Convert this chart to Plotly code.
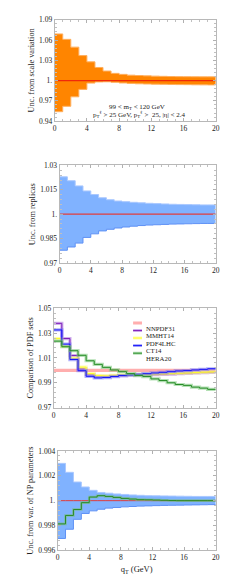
import plotly.graph_objects as go

# ---------------- data ----------------
qt_edges = list(range(21))          # bin edges in q_T (GeV)
x_ticks = [0, 4, 8, 12, 16, 20]

# panel 1: scale variation band
scale_up = [1.069, 1.061, 1.0495, 1.037, 1.0277, 1.0194, 1.0141, 1.0107, 1.0092, 1.008,
            1.0075, 1.007, 1.0066, 1.0063, 1.006, 1.0058, 1.0057, 1.0056, 1.0055, 1.0055]
scale_lo = [0.954, 0.962, 0.976, 0.987, 0.9963, 0.998, 0.9982, 0.9975, 0.9965, 0.9958,
            0.9953, 0.995, 0.9947, 0.9945, 0.9943, 0.9941, 0.994, 0.9938, 0.9937, 0.9936]

# panel 2: replicas band
rep_up = [1.023, 1.0206, 1.0174, 1.0143, 1.0121, 1.0101, 1.0089, 1.0081, 1.0077, 1.0073,
          1.007, 1.0067, 1.0065, 1.0063, 1.0061, 1.006, 1.0059, 1.0058, 1.0057, 1.0057]
rep_lo = [0.9778, 0.9798, 0.9822, 0.9857, 0.9879, 0.9897, 0.9907, 0.9915, 0.9921, 0.9926,
          0.993, 0.9933, 0.9935, 0.9937, 0.9939, 0.994, 0.9941, 0.9942, 0.9943, 0.9943]

# panel 3: PDF set comparison
pdf_names = ["NNPDF31", "MMHT14", "PDF4LHC", "CT14", "HERA20"]
nnpdf31 = [1.0] * 20
mmht14 = [1.0378, 1.0256, 1.0119, 1.0013, 0.9966, 0.9952, 0.9952, 0.9955, 0.9958, 0.9961,
          0.9963, 0.9964, 0.9965, 0.9967, 0.997, 0.9973, 0.9976, 0.9979, 0.9982, 0.9984]
pdf4lhc = [1.0256, 1.0193, 1.0098, 1.0026, 0.9974, 0.9958, 0.9955, 0.996, 0.9963, 0.9965,
           0.9967, 0.9969, 0.9971, 0.9973, 0.9975, 0.9977, 0.9979, 0.9982, 0.9985, 0.9987]
ct14 = [1.0325, 1.0211, 1.0087, 0.9997, 0.9952, 0.9939, 0.9942, 0.995, 0.9958, 0.9963,
        0.9968, 0.9973, 0.9979, 0.9984, 0.9989, 0.9995, 0.9998, 1.0003, 1.0008, 1.0013]
hera20 = [1.0235, 1.019, 1.0158, 1.0121, 1.0077, 1.0048, 1.0024, 1.0003, 0.9989, 0.9974,
          0.9958, 0.995, 0.9931, 0.9918, 0.99, 0.9886, 0.9879, 0.9865, 0.9857, 0.9847]

# panel 4: NP parameter variation
np_up = [1.003, 1.00228, 1.0015, 1.0011, 1.00083, 1.00066, 1.0006, 1.00054, 1.0005, 1.00046,
         1.00043, 1.0004, 1.00039, 1.00038, 1.00037, 1.00036, 1.00035, 1.00034, 1.00034, 1.00034]
np_lo = [0.99696, 0.9977, 0.9985, 0.99897, 0.99918, 0.99931, 0.9994, 0.99945, 0.9995, 0.99953,
         0.99956, 0.99958, 0.9996, 0.99962, 0.99963, 0.99964, 0.99965, 0.99966, 0.99967, 0.99968]
np_alt = [0.99813, 0.99881, 0.99929, 0.99984, 1.00029, 1.0004, 1.00034, 1.00026, 1.00018, 1.00013,
          1.00008, 1.00007, 1.00005, 1.00003, 1.00001, 1.0, 1.0, 1.0, 1.0, 1.0]

# ---------------- helpers ----------------
FONT = "Liberation Serif"

def step(v):
    return list(v) + [v[-1]]

fig = go.Figure()

def band(lo, up, fill, edge_lo, edge_up, ax):
    xa, ya = ax
    fig.add_trace(go.Scatter(x=qt_edges, y=step(lo), mode="lines", line=dict(shape="hv", color=edge_lo, width=1),
                             xaxis=xa, yaxis=ya, showlegend=False, hoverinfo="skip"))
    fig.add_trace(go.Scatter(x=qt_edges, y=step(up), mode="lines", line=dict(shape="hv", color=edge_up, width=1),
                             fill="tonexty", fillcolor=fill,
                             xaxis=xa, yaxis=ya, showlegend=False, hoverinfo="skip"))

def stepline(v, color, halo, ax, w=1.0, hw=3.0):
    xa, ya = ax
    if halo:
        fig.add_trace(go.Scatter(x=qt_edges, y=step(v), mode="lines",
                                 line=dict(shape="hv", color=halo, width=hw),
                                 xaxis=xa, yaxis=ya, showlegend=False, hoverinfo="skip"))
    if color:
        fig.add_trace(go.Scatter(x=qt_edges, y=step(v), mode="lines",
                                 line=dict(shape="hv", color=color, width=w),
                                 xaxis=xa, yaxis=ya, showlegend=False, hoverinfo="skip"))

# panel 1
band(scale_lo, scale_up, "rgb(255,133,0)", "rgb(255,175,95)", "rgb(255,175,95)", ("x", "y"))
stepline(nnpdf31, "rgb(240,40,10)", None, ("x", "y"), w=1.2)
# panel 2
band(rep_lo, rep_up, "rgb(128,178,255)", "rgb(95,145,245)", "rgb(170,200,255)", ("x2", "y2"))
stepline(nnpdf31, "rgb(225,60,60)", None, ("x2", "y2"), w=1.2)
# panel 3
pdf_series = [nnpdf31, mmht14, pdf4lhc, ct14, hera20]
pdf_colors = ["rgba(0,0,0,0)", "rgb(125,30,185)", "rgb(255,255,40)", "rgb(20,20,250)", "rgb(40,140,40)"]
pdf_halos = ["rgba(255,120,120,0.6)", "rgba(170,110,220,0.55)", "rgba(255,255,120,0.6)",
             "rgba(110,110,250,0.55)", "rgba(120,200,120,0.55)"]
for s, c, h in zip(pdf_series, pdf_colors, pdf_halos):
    stepline(s, c, h, ("x3", "y3"), w=1.0, hw=3.2)
# panel 4
band(np_lo, np_up, "rgb(128,178,255)", "rgb(95,145,245)", "rgb(170,200,255)", ("x4", "y4"))
stepline(nnpdf31, "rgb(225,60,60)", None, ("x4", "y4"), w=1.0)
stepline(np_alt, "rgb(40,140,40)", "rgba(120,190,120,0.6)", ("x4", "y4"), w=1.0, hw=2.6)

# ---------------- layout ----------------
W, H = 249, 579

def dom_x(a, b):
    return [a / W, b / W]

def dom_y(top, bot):
    return [1 - bot / H, 1 - top / H]

axis_common = dict(showline=True, linecolor="#b8b8b8", linewidth=1, mirror="allticks",
                   ticks="inside", ticklen=3, tickcolor="#b0b0b0", showgrid=False, zeroline=False,
                   tickfont=dict(family=FONT, size=7.5, color="#222"))

def xaxis(dom, anchor, title=None):
    d = dict(axis_common, domain=dom, anchor=anchor, range=[0, 20], tickmode="array",
             tickvals=x_ticks, ticktext=[str(t) for t in x_ticks],
             minor=dict(dtick=1, tick0=0, ticks="inside", ticklen=2, tickcolor="#c0c0c0"))
    if title:
        d["title"] = dict(text=title, font=dict(family=FONT, size=8.5, color="#222"), standoff=4)
    return d

def yaxis(dom, anchor, rng, vals, texts, minor, title):
    return dict(axis_common, domain=dom, anchor=anchor, range=rng, tickmode="array",
                tickvals=vals, ticktext=texts,
                minor=dict(dtick=minor, tick0=rng[0], ticks="inside", ticklen=2, tickcolor="#c0c0c0"),
                title=dict(text=title, font=dict(family=FONT, size=8.3, color="#222"), standoff=3))

fig.update_layout(
    width=W, height=H, margin=dict(l=0, r=0, t=0, b=0),
    paper_bgcolor="white", plot_bgcolor="white", showlegend=False,
    font=dict(family=FONT, color="#222"),
    xaxis=xaxis(dom_x(54, 219), "y"),
    yaxis=yaxis(dom_y(16, 119), "x", [0.94, 1.09], [0.94, 0.97, 1.0, 1.03, 1.06, 1.09],
                ["0.94", "0.97", "1.", "1.03", "1.06", "1.09"], 0.006, "Unc. from scale variation"),
    xaxis2=xaxis(dom_x(59, 219), "y2"),
    yaxis2=yaxis(dom_y(164, 263), "x2", [0.97, 1.03], [0.97, 0.985, 1.0, 1.015, 1.03],
                 ["0.97", "0.985", "1.", "1.015", "1.03"], 0.003, "Unc. from replicas"),
    xaxis3=xaxis(dom_x(53, 219), "y3"),
    yaxis3=yaxis(dom_y(309, 410), "x3", [0.97, 1.05], [0.97, 0.99, 1.01, 1.03, 1.05],
                 ["0.97", "0.99", "1.01", "1.03", "1.05"], 0.004, "Comparison of PDF sets"),
    xaxis4=xaxis(dom_x(57, 219), "y4", title="q<sub>T</sub> (GeV)"),
    yaxis4=yaxis(dom_y(454, 555), "x4", [0.996, 1.004], [0.996, 0.998, 1.0, 1.002, 1.004],
                 ["0.996", "0.998", "1.", "1.002", "1.004"], 0.0004, "Unc. from var. of NP parameters"),
)

# panel 1 kinematic annotation
fig.add_annotation(x=10.2, y=0.9612, xref="x", yref="y", showarrow=False,
                   text="99 < m<sub>T</sub> < 120 GeV", font=dict(family=FONT, size=7, color="#222"))
fig.add_annotation(x=10.5, y=0.9495, xref="x", yref="y", showarrow=False,
                   text="p<sub>T</sub><sup>ℓ</sup> > 25 GeV, p<sub>T</sub><sup>ℓ</sup> >  25, |η| < 2.4",
                   font=dict(family=FONT, size=7, color="#222"))

# panel 3 legend (drawn manually)
legend_y = [1.0338, 1.0278, 1.0218, 1.0157, 1.0096]
for name, c, h, yy in zip(pdf_names, pdf_colors, pdf_halos, legend_y):
    sw_y = yy + 0.0042
    fig.add_shape(type="line", xref="x3", yref="y3", x0=9.8, x1=10.9, y0=sw_y, y1=sw_y,
                  line=dict(color=h, width=3))
    if c != "rgba(0,0,0,0)":
        fig.add_shape(type="line", xref="x3", yref="y3", x0=9.8, x1=10.9, y0=sw_y, y1=sw_y,
                      line=dict(color=c, width=1))
    fig.add_annotation(x=11.2, y=yy, xref="x3", yref="y3", showarrow=False, xanchor="left",
                       text=name, font=dict(family=FONT, size=6.8, color="#222"))

fig.write_html("out.html", config={"displayModeBar": False},
               post_script="document.body.style.margin='0';document.body.style.overflow='hidden';")
